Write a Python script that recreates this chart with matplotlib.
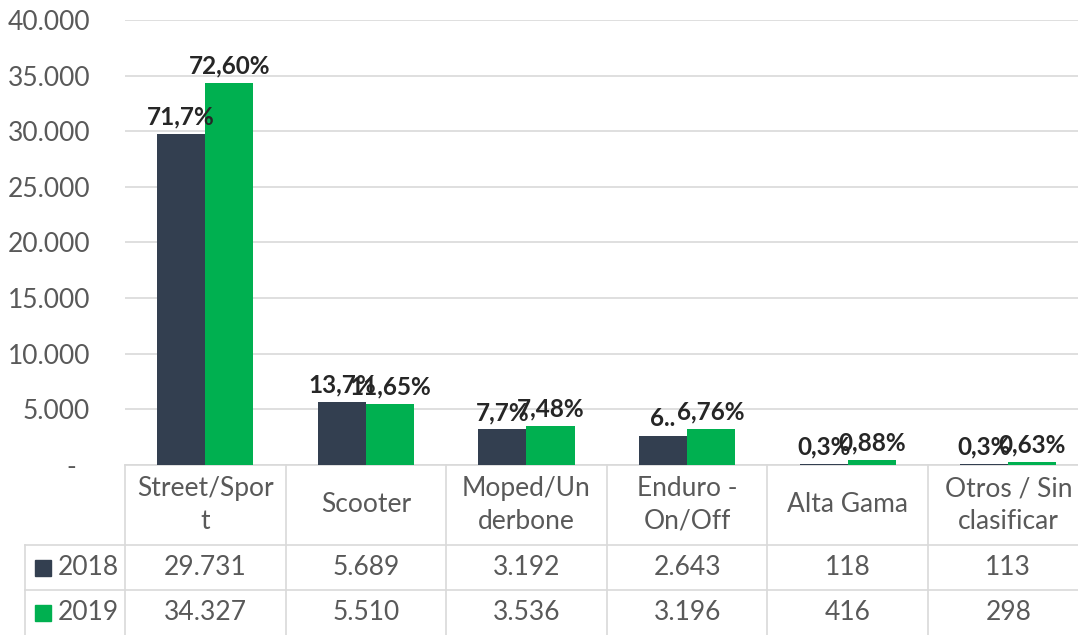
import matplotlib
matplotlib.use("Agg")
import matplotlib.pyplot as plt
from matplotlib.patches import Rectangle
from matplotlib.transforms import blended_transform_factory
import numpy as np

# data
categories = ["Street/Spor\nt", "Scooter", "Moped/Un\nderbone", "Enduro -\nOn/Off",
              "Alta Gama", "Otros / Sin\nclasificar"]
years = ["2018", "2019"]
values_2018 = [29731, 5689, 3192, 2643, 118, 113]
values_2019 = [34327, 5510, 3536, 3196, 416, 298]
labels_2018 = ["71,7%", "13,7%", "7,7%", "6..", "0,3%", "0,3%"]
labels_2019 = ["72,60%", "11,65%", "7,48%", "6,76%", "0,88%", "0,63%"]
yticks = np.arange(0, 40001, 5000)

colors = ["#333F50", "#00B050"]
grey_text = "#595959"
grid_col = "#D9D9D9"

plt.rcParams['font.family'] = ['Lato', 'DejaVu Sans']

W, H = 1078, 635
fig = plt.figure(figsize=(W / 100, H / 100), dpi=100)

# plot area in pixels (left 125, 0 at y=465, 40000 at y=20), column width ~160.6
colw = 160.6
ax = fig.add_axes([125 / W, (H - 465) / H, 6 * colw / W, 445 / H])

x = np.arange(len(categories))
bw = 0.3
series = [values_2018, values_2019]
labels = [labels_2018, labels_2019]
for i, (vals, labs) in enumerate(zip(series, labels)):
    bars = ax.bar(x + (i - 0.5) * bw, vals, bw, color=colors[i], zorder=3)
    for b, lab in zip(bars, labs):
        ax.annotate(lab, (b.get_x() + b.get_width() / 2, b.get_height()),
                    xytext=(0, 4), textcoords="offset points",
                    ha="center", va="bottom", fontsize=17.5, fontweight="bold",
                    color="#262626", zorder=5)

ax.set_xlim(-0.5, len(categories) - 0.5)
ax.set_ylim(0, 40000)
ax.set_yticks(yticks)
ax.set_yticklabels(["-  " if v == 0 else f"{v:,}".replace(",", ".") for v in yticks],
                   fontsize=19, color=grey_text)
ax.tick_params(axis="y", length=0, pad=25)
ax.set_xticks([])
ax.yaxis.grid(True, color=grid_col, linewidth=1.2, zorder=0)
for s in ["top", "right", "left"]:
    ax.spines[s].set_visible(False)
ax.spines["bottom"].set_color(grid_col)
ax.spines["bottom"].set_linewidth(1.2)

# data table under the chart
tr = blended_transform_factory(ax.transData, fig.transFigure)
y_top = (H - 465) / H
y_r1 = (H - 545) / H
y_r2 = (H - 590) / H
x_left = (25 - 125) / colw - 0.5

for k in range(len(categories) + 1):
    ax.plot([k - 0.5, k - 0.5], [0, y_top], color=grid_col, lw=1.2,
            transform=tr, clip_on=False)
for yy in [y_r1, y_r2]:
    ax.plot([x_left, len(categories) - 0.5], [yy, yy], color=grid_col, lw=1.2,
            transform=tr, clip_on=False)
ax.plot([x_left, x_left], [0, y_r1], color=grid_col, lw=1.2,
        transform=tr, clip_on=False)

for k, cat in enumerate(categories):
    ax.text(k, (y_top + y_r1) / 2, cat, transform=tr, ha="center", va="center",
            fontsize=19, color=grey_text, linespacing=1.4)

row_y = [(y_r1 + y_r2) / 2, y_r2 / 2]
for i, (vals, yr) in enumerate(zip(series, years)):
    for k, v in enumerate(vals):
        ax.text(k, row_y[i], f"{v:,}".replace(",", "."), transform=tr,
                ha="center", va="center", fontsize=19, color=grey_text)
    fig.patches.append(Rectangle((35 / W, row_y[i] - 8 / H), 16 / W, 16 / H,
                                 color=colors[i], transform=fig.transFigure))
    fig.text(58 / W, row_y[i], yr, ha="left", va="center", fontsize=19,
             color=grey_text)

fig.savefig("out.png", dpi=100)
